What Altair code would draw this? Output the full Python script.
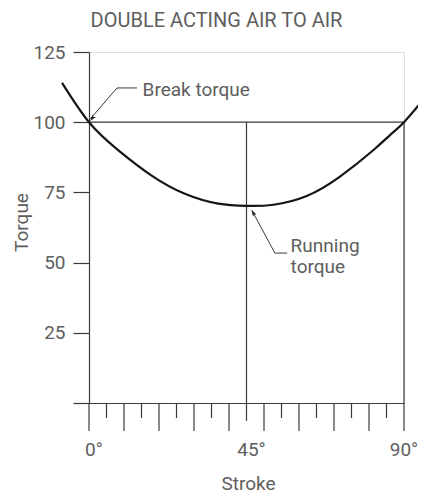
import altair as alt
import pandas as pd

# ---- data ----
curve_stroke = [-7.7, 0, 8.4, 17.9, 27.4, 36.9, 45, 52.7, 62.2, 71.7, 81.2, 86, 90, 95.7]
curve_torque = [114, 100, 90, 81, 74.5, 71, 70.2, 70.6, 73.7, 80.6, 90, 95.4, 100, 108.3]

y_ticks = [0, 25, 50, 75, 100, 125]
x_label_values = [0, 45]
x_label_texts = ["0°", "45°"]
x_end_value = [90]
x_end_text = ["90°"]
major_ticks = [0, 10, 20, 30, 40, 50, 60, 70, 80]
minor_ticks = [5, 15, 25, 35, 55, 65, 75, 85]

ref_level = 100
ref_start, ref_end = 0, 90

break_x = [0.4, 8.0, 13.7]
break_y = [101.2, 112.2, 112.2]
break_head = (1.0, 101.5)
break_label = ("Break torque", 15.3, 109.3)

run_x = [46.5, 53.1, 56.6]
run_y = [68.7, 53.4, 53.4]
run_head = (46.97, 67.6)
run_labels = ["Running", "torque"]
run_label_x = 57.6
run_label_y = [53.6, 46.2]

title_text = "DOUBLE ACTING AIR TO AIR"

W, H = 315, 351
FONT = "Roboto"
LINE = "#3a3a3a"
TEXT = "#5e5e5e"
FS = 19
ARROW = "M0,-1 L0.55,0.8 L0,0.35 L-0.55,0.8 Z"

xs = alt.Scale(domain=[0, 90], nice=False, zero=False)
ys = alt.Scale(domain=[0, 125], nice=False, zero=False)

curve_df = pd.DataFrame({"s": curve_stroke, "t": curve_torque})

base_axes = alt.Chart(pd.DataFrame({"s": [0], "t": [0]})).mark_point(opacity=0).encode(
    x=alt.X("s:Q", scale=xs, axis=alt.Axis(
        title="Stroke", labels=False, ticks=False, domain=True, grid=False,
        domainColor=LINE, domainWidth=1.2,
        titleFont=FONT, titleFontSize=FS, titleFontWeight="normal", titleColor=TEXT,
        titleX=159, titleY=86, titleBaseline="alphabetic", titleAlign="center")),
    y=alt.Y("t:Q", scale=ys, axis=alt.Axis(
        title="Torque", values=y_ticks, tickSize=16, labelPadding=8, grid=False,
        labelExpr="datum.value == 0 ? '' : datum.label",
        domainColor=LINE, domainWidth=1.2, tickColor=LINE, tickWidth=1.2,
        labelFont=FONT, labelFontSize=FS, labelFontWeight="normal", labelColor=TEXT,
        titleFont=FONT, titleFontSize=FS, titleFontWeight="normal", titleColor=TEXT,
        titleX=-68, titleY=170, titleAngle=270, titleAlign="center", titleBaseline="middle")),
)

ref = alt.Chart(pd.DataFrame({"a": [ref_start], "b": [ref_end], "t": [ref_level]})).mark_rule(
    color=LINE, strokeWidth=1.2).encode(x=alt.X("a:Q", scale=xs), x2="b:Q", y=alt.Y("t:Q", scale=ys))

drops45 = alt.Chart(pd.DataFrame({"s": [45]})).mark_rule(color=LINE, strokeWidth=1.2).encode(
    x=alt.X("s:Q", scale=xs), y=alt.datum(ref_level, scale=ys), y2=alt.value(H + 18))
drops90 = alt.Chart(pd.DataFrame({"s": [90]})).mark_rule(color=LINE, strokeWidth=1.2).encode(
    x=alt.X("s:Q", scale=xs), y=alt.datum(ref_level, scale=ys), y2=alt.value(H + 28))

maj = alt.Chart(pd.DataFrame({"s": major_ticks})).mark_rule(color=LINE, strokeWidth=1.2).encode(
    x=alt.X("s:Q", scale=xs), y=alt.value(H), y2=alt.value(H + 28))
mnr = alt.Chart(pd.DataFrame({"s": minor_ticks})).mark_rule(color=LINE, strokeWidth=1.2).encode(
    x=alt.X("s:Q", scale=xs), y=alt.value(H), y2=alt.value(H + 15))

xlab = alt.Chart(pd.DataFrame({"s": x_label_values, "l": x_label_texts})).mark_text(
    font=FONT, fontSize=FS, color=TEXT, align="center", baseline="alphabetic", dx=5,
    dy=53).encode(x=alt.X("s:Q", scale=xs), y=alt.value(H), text="l:N")
xlab_end = alt.Chart(pd.DataFrame({"s": x_end_value, "l": x_end_text})).mark_text(
    font=FONT, fontSize=FS, color=TEXT, align="center", baseline="alphabetic", dx=0,
    dy=53).encode(x=alt.X("s:Q", scale=xs), y=alt.value(H), text="l:N")

title = alt.Chart(pd.DataFrame({"l": [title_text]})).mark_text(
    font=FONT, fontSize=20, color=TEXT, align="center", baseline="alphabetic").encode(
    x=alt.value(127.5), y=alt.value(-25), text="l:N")

curve = alt.Chart(curve_df).mark_line(color="#151515", strokeWidth=2.2, interpolate="natural").encode(
    x=alt.X("s:Q", scale=xs), y=alt.Y("t:Q", scale=ys))

def leader(xv, yv):
    df = pd.DataFrame({"s": xv, "t": yv, "o": list(range(len(xv)))})
    return alt.Chart(df).mark_line(color=LINE, strokeWidth=1).encode(
        x=alt.X("s:Q", scale=xs), y=alt.Y("t:Q", scale=ys), order="o:Q")

def head(pt, ang):
    df = pd.DataFrame({"s": [pt[0]], "t": [pt[1]]})
    return alt.Chart(df).mark_point(shape=ARROW, filled=True, color="#1a1a1a", size=55,
                                    angle=ang, opacity=1, strokeWidth=0.5).encode(
        x=alt.X("s:Q", scale=xs), y=alt.Y("t:Q", scale=ys))

blab = alt.Chart(pd.DataFrame({"s": [break_label[1]], "t": [break_label[2]], "l": [break_label[0]]})).mark_text(
    font=FONT, fontSize=FS, color=TEXT, align="left", baseline="alphabetic").encode(
    x=alt.X("s:Q", scale=xs), y=alt.Y("t:Q", scale=ys), text="l:N")
rlab = alt.Chart(pd.DataFrame({"s": [run_label_x] * 2, "t": run_label_y, "l": run_labels})).mark_text(
    font=FONT, fontSize=FS, color=TEXT, align="left", baseline="alphabetic").encode(
    x=alt.X("s:Q", scale=xs), y=alt.Y("t:Q", scale=ys), text="l:N")

chart = alt.layer(
    base_axes, ref, drops45, drops90, maj, mnr, xlab, xlab_end, title, curve,
    leader(break_x, break_y), head(break_head, 218.5), blab,
    leader(run_x, run_y), head(run_head, 331.4), rlab,
).properties(
    width=W, height=H,
    autosize=alt.AutoSizeParams(type="none"),
    padding={"left": 81, "top": 44, "right": 14, "bottom": 91},
).configure_view(strokeWidth=0).configure(background="white")

chart.save("out.html", embed_options={"renderer": "svg", "actions": False})
